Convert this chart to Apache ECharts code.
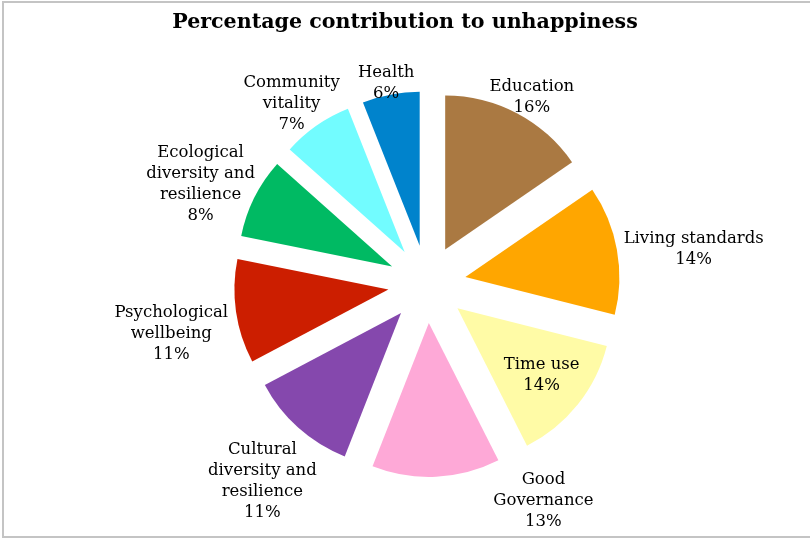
<!DOCTYPE html>
<html>
<head>
<meta charset="utf-8">
<script src="https://cdn.jsdelivr.net/npm/echarts@6/dist/echarts.min.js"></script>
<style>
  html, body { margin: 0; padding: 0; background: #fff; }
  #frame { position: absolute; left: 2px; top: 1px; width: 830px; height: 537px; border: 2px solid #c4c4c4; box-sizing: border-box; }
  #chart { position: absolute; left: 0; top: 0; width: 810px; height: 542px; }
</style>
</head>
<body>
<div id="frame"></div>
<div id="chart"></div>
<script>
// categories in clockwise order starting at 12 o'clock
const names = ['Education', 'Living standards', 'Time use', 'Good\nGovernance',
  'Cultural\ndiversity and\nresilience', 'Psychological\nwellbeing',
  'Ecological\ndiversity and\nresilience', 'Community\nvitality', 'Health']
// slice sizes as drawn (share of the circle, %)
const shares = [15.4, 13.5, 13.6, 13.4, 11.3, 10.9, 8.4, 7.4, 6.0]
// percentages printed on the labels
const pctLabels = ['16%', '14%', '14%', '13%', '11%', '11%', '8%', '7%', '6%']
const colors = ['#AA7942', '#FFA600', '#FFFBA6', '#FEA9D7', '#8548AD',
  '#CC1E00', '#00BA63', '#72FCFF', '#0083CC']
const insideLabels = ['Time use']

// pie geometry
const CX = 427, CY = 284, R = 154, OFFSET = 39
// label box: gap to the rim, inner text margins, and the label origin sits a bit low
const GAP = 3, PAD_X = 6, LABEL_DY = 13
const TOP = 44, BOTTOM = 534

const total = shares.reduce((a, b) => a + b, 0)
const mids = []
let acc = 0
shares.forEach(v => { mids.push((acc + v / 2) / total * Math.PI * 2); acc += v })

const chart = echarts.init(document.getElementById('chart'))

// place labels the way the spreadsheet does: just outside the exploded slice,
// turned along the rim if they would fall off the plot area
const placeLabel = (p) => {
  const i = p.dataIndex
  const w = p.labelRect.width + PAD_X * 2, h = p.labelRect.height
  let a = mids[i]
  if (insideLabels.includes(names[i])) {
    const d = OFFSET + R * 0.7
    return { x: CX + d * Math.sin(a), y: CY - d * Math.cos(a), align: 'center', verticalAlign: 'middle' }
  }
  let x = 0, y = 0
  for (let k = 0; k < 60; k++) {
    const ux = Math.sin(a), uy = -Math.cos(a)
    const d = R + OFFSET + GAP + Math.hypot(ux * w / 2, uy * h / 2)
    x = CX + d * ux
    y = CY + LABEL_DY + d * uy
    if (y + h / 2 > BOTTOM) a -= Math.PI / 180
    else if (y - h / 2 < TOP) a += Math.PI / 180
    else break
  }
  return { x: x, y: y, align: 'center', verticalAlign: 'middle' }
}

const option = {
  animation: false,
  title: {
    text: 'Percentage contribution to unhappiness',
    left: 'center',
    top: 7,
    textStyle: { fontFamily: 'DejaVu Serif', fontWeight: 'bold', fontSize: 20.6, color: '#000' },
  },
  series: [
    {
      // exploded slices
      type: 'pie',
      center: [CX, CY],
      radius: R,
      startAngle: 90,
      clockwise: true,
      selectedMode: 'multiple',
      selectedOffset: OFFSET,
      silent: true,
      emphasis: { disabled: true },
      label: { show: false },
      labelLine: { show: false },
      data: names.map((n, i) => ({
        name: n,
        value: shares[i],
        selected: true,
        itemStyle: { color: colors[i] },
        select: { itemStyle: { color: colors[i], borderWidth: 0 } },
      })),
    },
    {
      // same pie, see-through, only carries the labels
      type: 'pie',
      center: [CX, CY],
      radius: R,
      startAngle: 90,
      clockwise: true,
      silent: true,
      avoidLabelOverlap: false,
      emphasis: { disabled: true },
      itemStyle: { color: 'rgba(0,0,0,0)' },
      label: {
        show: true,
        position: 'outside',
        formatter: (p) => p.name + '\n' + pctLabels[p.dataIndex],
        fontFamily: 'DejaVu Serif',
        fontSize: 16.5,
        lineHeight: 21,
        color: '#000',
      },
      labelLine: { show: false, length: 5, length2: 0 },
      labelLayout: placeLabel,
      data: names.map((n, i) => ({ name: n, value: shares[i] })),
    },
  ],
}
chart.setOption(option)
</script>
</body>
</html>
